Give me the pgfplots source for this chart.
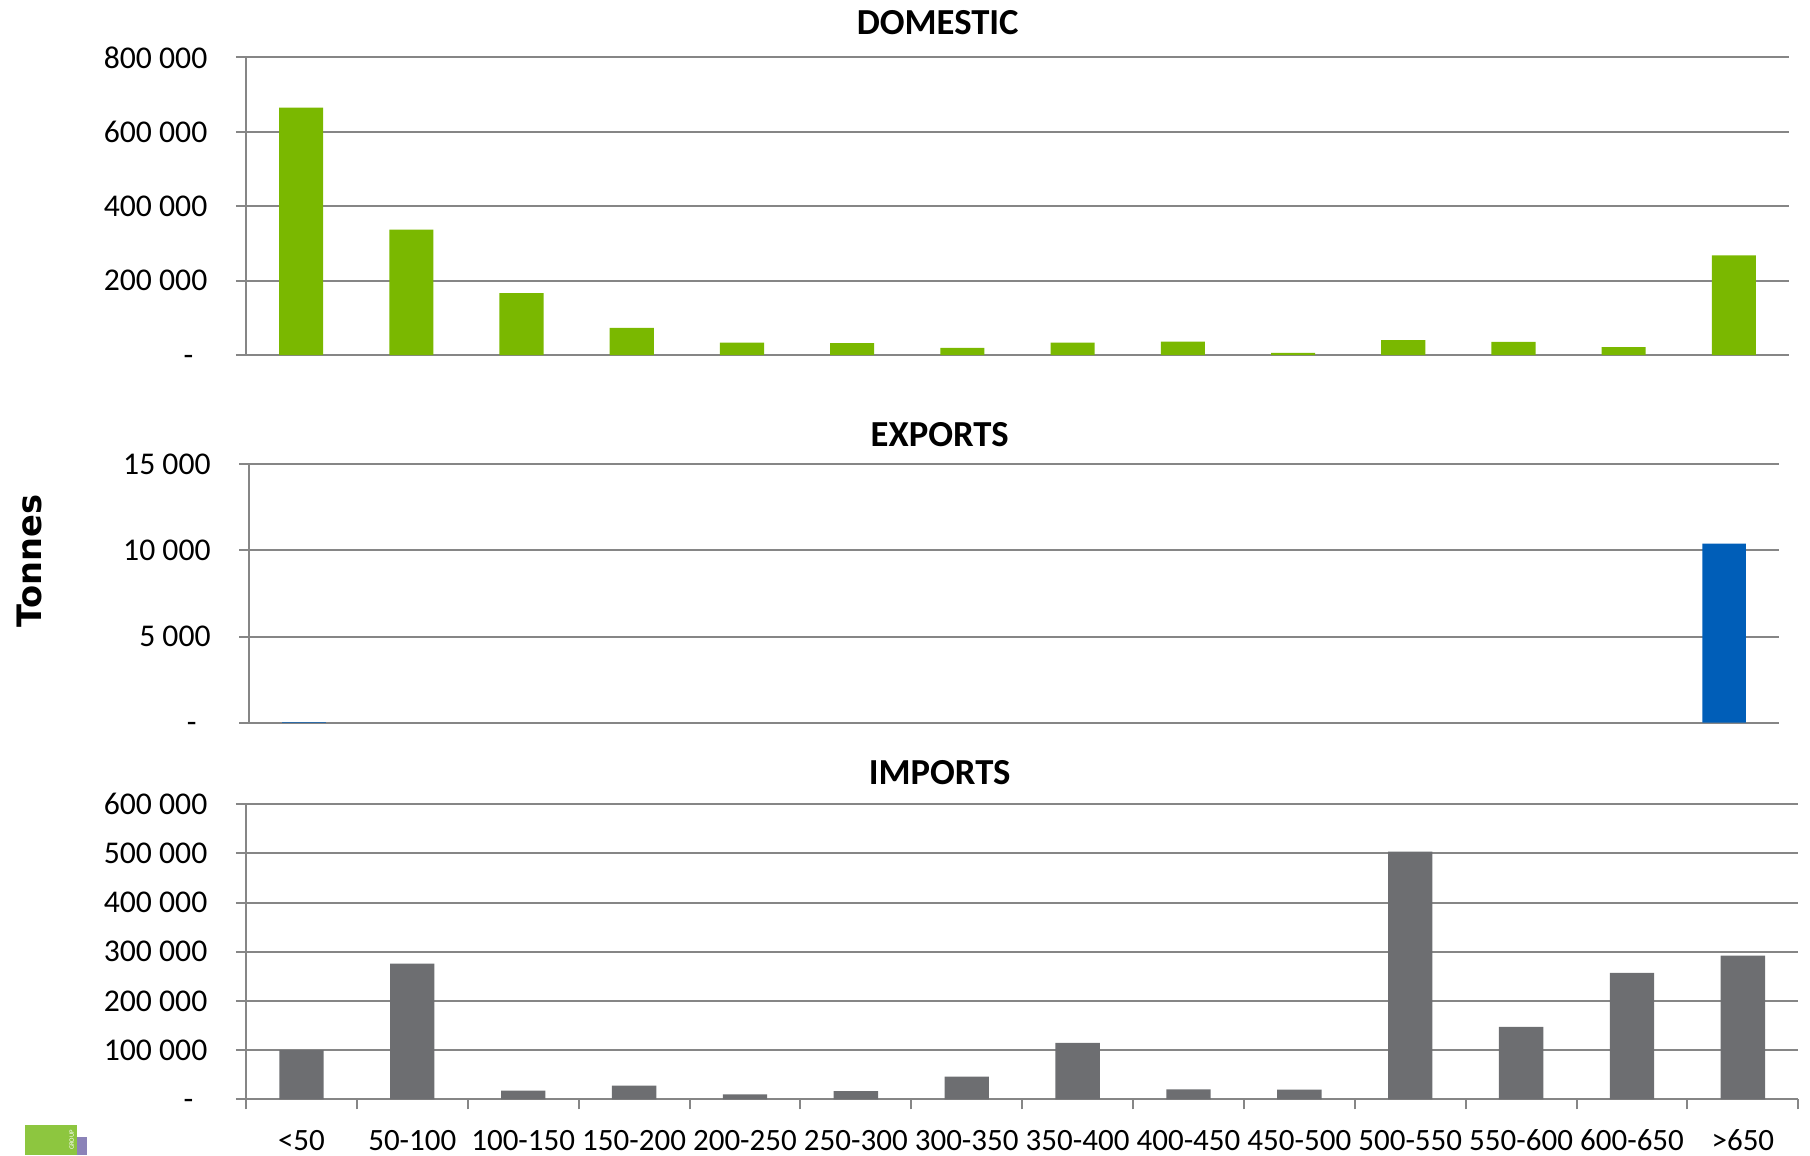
\documentclass[border=0pt]{standalone}
\usepackage{fontspec}
\setmainfont{Carlito}
\newfontfamily\tonnesfont{DejaVu Sans}
\usepackage{pgfplots}
\pgfplotsset{compat=1.18}
\definecolor{gridgray}{RGB}{134,134,134}
\definecolor{domgreen}{RGB}{122,184,0}
\definecolor{expblue}{RGB}{0,94,184}
\definecolor{impgray}{RGB}{109,110,113}
\definecolor{logogreen}{RGB}{141,198,63}
\definecolor{logopurple}{RGB}{139,131,184}
\newcommand{\zerolab}{\smash{\raisebox{-3pt}{-}}\rule{4.2pt}{0pt}}
\pgfplotsset{panel/.style={
  scale only axis, anchor=south west,
  xmin=-0.5, xmax=13.5,
  axis x line*=bottom, axis y line*=left,
  axis line style={draw=gridgray, line width=0.6pt, -},
  ymajorgrids, grid style={draw=gridgray, line width=0.6pt},
  ybar, bar width=0.4,
  xtick=\empty, scaled y ticks=false,
  tick align=outside, major tick length=3pt,
  ytick style={draw=gridgray, line width=0.6pt},
  yticklabel style={font=\fontsize{9.5}{11}\selectfont, inner sep=0pt, anchor=east, xshift=-8.4pt},
}}
\begin{document}
\begin{tikzpicture}
% DOMESTIC
\begin{axis}[panel, at={(73.8pt,240pt)}, width=462.9pt, height=89.31pt,
  ymin=0, ymax=800000, ytick={0,200000,400000,600000,800000},
  yticklabels={{\zerolab},{200 000},{400 000},{600 000},{800 000}}]
\addplot[fill=domgreen, draw=none] coordinates {
(0,665000) (1,337000) (2,166000) (3,73000) (4,33000) (5,32000) (6,19000)
(7,33000) (8,36000) (9,6000) (10,40000) (11,35000) (12,21000) (13,268000)};
\end{axis}
% EXPORTS
\begin{axis}[panel, at={(74.79pt,129.69pt)}, width=458.82pt, height=77.52pt,
  ymin=0, ymax=15000, ytick={0,5000,10000,15000},
  yticklabels={{\zerolab},{5 000},{10 000},{15 000}}]
\addplot[fill=expblue, draw=none] coordinates {
(0,40) (13,10400)};
\end{axis}
% IMPORTS
\begin{axis}[panel, at={(73.8pt,16.71pt)}, width=465.69pt, height=88.5pt,
  ymin=0, ymax=600000, ytick={0,100000,200000,300000,400000,500000,600000},
  yticklabels={{\zerolab},{100 000},{200 000},{300 000},{400 000},{500 000},{600 000}},
  xtick={-0.5,0.5,...,13.5}, xticklabels={},
  xtick style={draw=gridgray, line width=0.6pt},
  extra x ticks={0,1,...,13},
  extra x tick labels={{<50},{50-100},{100-150},{150-200},{200-250},{250-300},{300-350},{350-400},{400-450},{450-500},{500-550},{550-600},{600-650},{>650}},
  extra x tick style={major tick length=0pt, tick style={draw=none},
    xticklabel style={font=\fontsize{9.3}{11}\selectfont, anchor=base, inner sep=0pt, yshift=-15.3pt}}]
\addplot[fill=impgray, draw=none] coordinates {
(0,100000) (1,276000) (2,17600) (3,27800) (4,10200) (5,16900) (6,46000)
(7,115000) (8,20300) (9,19600) (10,504000) (11,147600) (12,257300) (13,292500)};
\end{axis}
% titles
\node[font=\fontsize{11}{13}\selectfont\bfseries] at (281.3pt,339.6pt) {DOMESTIC};
\node[font=\fontsize{11}{13}\selectfont\bfseries] at (281.9pt,216pt) {EXPORTS};
\node[font=\fontsize{11}{13}\selectfont\bfseries] at (281.9pt,114.6pt) {IMPORTS};
\node[rotate=90, font=\tonnesfont\fontsize{10.1}{12}\selectfont\bfseries] at (8.7pt,178.2pt) {Tonnes};
% logo
\fill[logopurple] (23.1pt,0) rectangle (26.1pt,5.4pt);
\fill[logogreen] (7.5pt,0) rectangle (23.1pt,9pt);
\node[rotate=90, text=white, font=\fontsize{2}{2}\selectfont, inner sep=0pt] at (21.5pt,4.5pt) {GROUP};
\pgfresetboundingbox
\useasboundingbox (0,0) rectangle (543pt,346.5pt);
\end{tikzpicture}
\end{document}
